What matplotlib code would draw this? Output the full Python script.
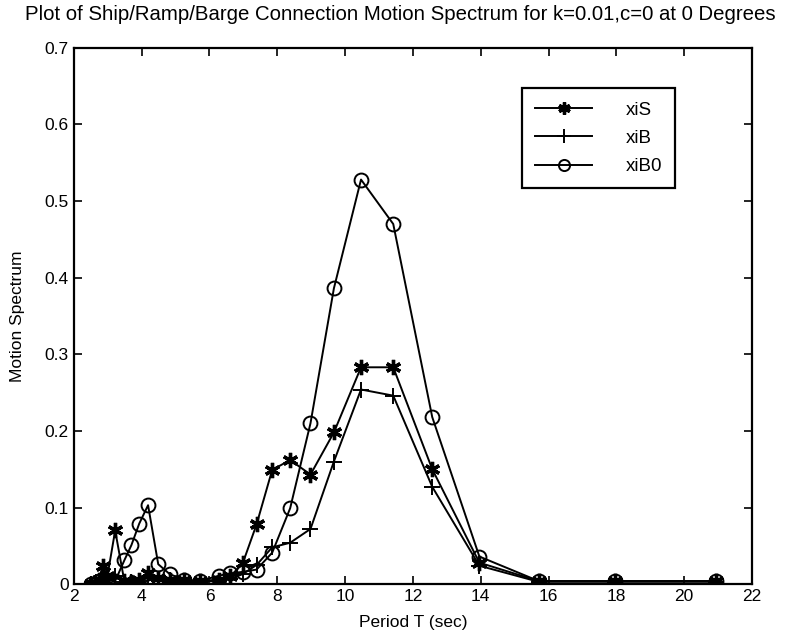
import matplotlib
matplotlib.use("Agg")
import matplotlib.pyplot as plt

# period (sec)
period = [20.94, 17.95, 15.71, 13.96, 12.57, 11.42, 10.47, 9.67, 8.98, 8.38,
          7.85, 7.39, 6.98, 6.61, 6.28, 5.71, 5.24, 4.83, 4.49, 4.19,
          3.93, 3.70, 3.49, 3.22, 2.99, 2.86, 2.73, 2.62, 2.51]

xiS = [0.004, 0.004, 0.004, 0.028, 0.150, 0.283, 0.283, 0.198, 0.143, 0.162,
       0.149, 0.078, 0.027, 0.010, 0.006, 0.004, 0.005, 0.006, 0.008, 0.015,
       0.006, 0.003, 0.004, 0.070, 0.010, 0.024, 0.006, 0.002, 0.000]

xiB = [0.003, 0.003, 0.003, 0.024, 0.127, 0.246, 0.254, 0.160, 0.072, 0.054,
       0.048, 0.025, 0.013, 0.007, 0.004, 0.003, 0.004, 0.005, 0.006, 0.008,
       0.004, 0.003, 0.003, 0.010, 0.006, 0.012, 0.004, 0.001, 0.000]

xiB0 = [0.004, 0.004, 0.004, 0.036, 0.218, 0.470, 0.528, 0.386, 0.210, 0.099,
        0.041, 0.019, 0.016, 0.014, 0.011, 0.004, 0.006, 0.013, 0.026, 0.103,
        0.079, 0.051, 0.031, 0.004, 0.001, 0.000, 0.000, 0.000, 0.000]

xticks = [2, 4, 6, 8, 10, 12, 14, 16, 18, 20, 22]
yticks = [0, 0.1, 0.2, 0.3, 0.4, 0.5, 0.6, 0.7]

plt.rcParams['font.family'] = ['Liberation Sans', 'DejaVu Sans']

fig = plt.figure(figsize=(7.85, 6.37), dpi=100)
ax = fig.add_axes([0.094, 0.083, 0.864, 0.842])

ax.plot(period, xiS, color='black', lw=1.4, marker=(6, 2, 0), ms=11, mew=2.4, label='xiS')
ax.plot(period, xiB, color='black', lw=1.4, marker='+', ms=12, mew=1.4, label='xiB')
ax.plot(period, xiB0, color='black', lw=1.4, marker='o', ms=10, mfc='none', mew=1.4, label='xiB0')

ax.set_xlim(2, 22)
ax.set_ylim(0, 0.7)
ax.set_xticks(xticks)
ax.set_yticks(yticks)
ax.set_yticklabels(['0', '0.1', '0.2', '0.3', '0.4', '0.5', '0.6', '0.7'])
ax.tick_params(direction='in', top=True, right=True, length=6, width=1.2, labelsize=12.5)
for s in ax.spines.values():
    s.set_linewidth(1.6)

ax.set_xlabel('Period T (sec)', fontsize=12.5, labelpad=8)
ax.set_ylabel('Motion Spectrum', fontsize=12.5, labelpad=14)
fig.text(0.51, 0.978, 'Plot of Ship/Ramp/Barge Connection Motion Spectrum for k=0.01,c=0 at 0 Degrees',
         ha='center', va='center', fontsize=14.7)

leg = ax.legend(loc='upper left', bbox_to_anchor=(0.6475, 0.942), fontsize=13.5, handlelength=3.0,
                fancybox=False, edgecolor='black', framealpha=1, borderpad=0.7, labelspacing=0.6,
                handletextpad=1.8, markerscale=0.8)
leg.get_frame().set_linewidth(1.6)

fig.savefig('out.png', dpi=100)
